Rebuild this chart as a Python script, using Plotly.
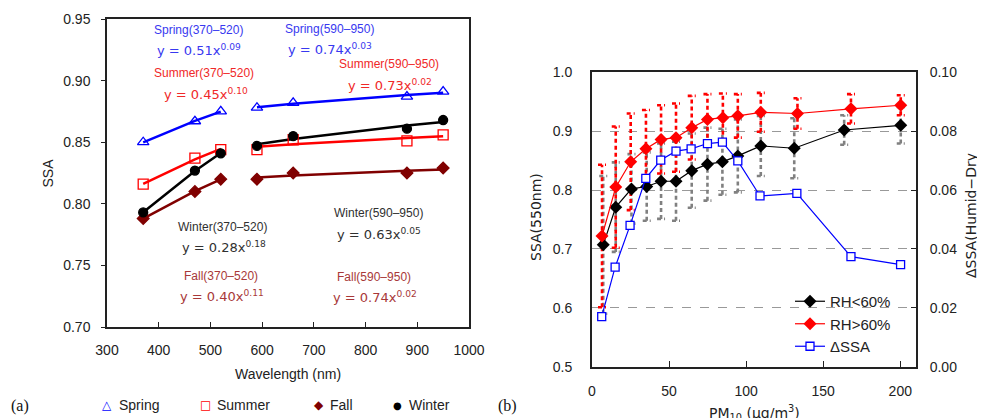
import numpy as np
import plotly.graph_objects as go

W, H = 985, 418
OFF = 8  # page body margin offset


def px(x):
    return (x - OFF) / W


def py(y):
    return 1 - (y - OFF) / H


# ---------------- panel (a) data ----------------
wl_short = [370, 470, 520]
wl_long = [590, 660, 880, 950]
spring_short = [0.850, 0.867, 0.875]
spring_long = [0.878, 0.882, 0.887, 0.891]
summer_short = [0.816, 0.837, 0.844]
summer_long = [0.844, 0.852, 0.851, 0.856]
fall_short = [0.788, 0.810, 0.820]
fall_long = [0.820, 0.825, 0.825, 0.829]
winter_short = [0.793, 0.827, 0.841]
winter_long = [0.847, 0.855, 0.861, 0.868]

seasons = ["Spring", "Summer", "Fall", "Winter"]
season_colors = {"Spring": "#0000FF", "Summer": "#FF0000", "Fall": "#800000", "Winter": "#000000"}
season_text_colors = {"Spring": "#3838F0", "Summer": "#F02828", "Fall": "#A83838", "Winter": "#303030"}
season_symbols = {"Spring": "triangle-up-open", "Summer": "square-open", "Fall": "diamond", "Winter": "circle"}
season_sizes = {"Spring": 10, "Summer": 10, "Fall": 9, "Winter": 9}
season_data = {
    "Spring": (spring_short, spring_long),
    "Summer": (summer_short, summer_long),
    "Fall": (fall_short, fall_long),
    "Winter": (winter_short, winter_long),
}
eq_short = {"Spring": ("0.51", "0.09"), "Summer": ("0.45", "0.10"), "Fall": ("0.40", "0.11"), "Winter": ("0.28", "0.18")}
eq_long = {"Spring": ("0.74", "0.03"), "Summer": ("0.73", "0.02"), "Fall": ("0.74", "0.02"), "Winter": ("0.63", "0.05")}

# ---------------- panel (b) data ----------------
pm_dry = [7.3, 15.4, 25.6, 35.5, 44.8, 54.5, 64.7, 74.9, 84.6, 94.6, 109.5, 131.2, 163.6, 200.3]
pm_wet = [6.5, 15.4, 25.1, 35.0, 44.8, 54.5, 64.7, 74.9, 84.9, 94.6, 109.5, 133.3, 168.0, 200.3]
ssa_dry = [0.707, 0.771, 0.802, 0.806, 0.815, 0.815, 0.833, 0.844, 0.848, 0.858, 0.875, 0.871, 0.902, 0.910]
ssa_dry_err = [0.117, 0.076, 0.059, 0.058, 0.064, 0.067, 0.063, 0.062, 0.056, 0.062, 0.051, 0.051, 0.025, 0.031]
ssa_wet = [0.722, 0.805, 0.848, 0.870, 0.886, 0.889, 0.906, 0.920, 0.923, 0.926, 0.932, 0.930, 0.938, 0.944]
ssa_wet_err = [0.121, 0.103, 0.082, 0.066, 0.058, 0.058, 0.054, 0.043, 0.041, 0.037, 0.033, 0.026, 0.025, 0.017]
pm_delta = [6.3, 15.0, 24.7, 34.9, 44.6, 54.5, 64.3, 74.9, 84.6, 94.6, 109.0, 132.9, 168.0, 200.2]
delta_ssa = [0.0170, 0.0338, 0.0480, 0.0640, 0.0702, 0.0732, 0.0740, 0.0758, 0.0763, 0.0699, 0.0580, 0.0589, 0.0374, 0.0347]

fig = go.Figure()


def power_fit(x, y):
    b, ln_a = np.polyfit(np.log(x), np.log(y), 1)
    return [float(np.exp(ln_a) * xi ** b) for xi in x]


for s in seasons:
    ys, yl = season_data[s]
    for xx, yy in ((wl_short, ys), (wl_long, yl)):
        fig.add_trace(go.Scatter(x=xx, y=power_fit(xx, yy), mode="lines",
                                 line=dict(color=season_colors[s], width=2.5),
                                 showlegend=False, xaxis="x", yaxis="y", hoverinfo="skip"))
for s in seasons:
    ys, yl = season_data[s]
    fig.add_trace(go.Scatter(x=wl_short + wl_long, y=ys + yl, mode="markers", name=s,
                             marker=dict(symbol=season_symbols[s], size=season_sizes[s],
                                         color=season_colors[s], line=dict(width=1.3, color=season_colors[s])),
                             showlegend=False, xaxis="x", yaxis="y"))


def err_segments(xs, ys, es, half):
    ex, ey = [], []
    for x, y, e in zip(xs, ys, es):
        ex += [x, x, None, x - half, x + half, None, x - half, x + half, None]
        ey += [y - e, y + e, None, y + e, y + e, None, y - e, y - e, None]
    return ex, ey


gx, gy = err_segments(pm_dry, ssa_dry, ssa_dry_err, 2.6)
fig.add_trace(go.Scatter(x=gx, y=gy, mode="lines", line=dict(color="#808080", width=2.6, dash="4px,3px"),
                         showlegend=False, xaxis="x2", yaxis="y2", hoverinfo="skip"))
rx, ry = err_segments(pm_wet, ssa_wet, ssa_wet_err, 2.6)
fig.add_trace(go.Scatter(x=rx, y=ry, mode="lines", line=dict(color="#FF0000", width=2.6, dash="4px,3px"),
                         showlegend=False, xaxis="x2", yaxis="y2", hoverinfo="skip"))

fig.add_trace(go.Scatter(x=pm_dry, y=ssa_dry, mode="lines+markers", name="RH&lt;60%",
                         line=dict(color="#000000", width=1.2),
                         marker=dict(symbol="diamond", size=10, color="#000000"),
                         xaxis="x2", yaxis="y2", legendrank=1))
fig.add_trace(go.Scatter(x=pm_wet, y=ssa_wet, mode="lines+markers", name="RH&gt;60%",
                         line=dict(color="#FF0000", width=1.2),
                         marker=dict(symbol="diamond", size=10, color="#FF0000"),
                         xaxis="x2", yaxis="y2", legendrank=2))
fig.add_trace(go.Scatter(x=pm_delta, y=delta_ssa, mode="lines+markers", name="ΔSSA",
                         line=dict(color="#0000FF", width=1.2),
                         marker=dict(symbol="square", size=8, color="#FFFFFF", line=dict(color="#0000FF", width=1.3)),
                         xaxis="x2", yaxis="y3", legendrank=3))

tickfont = dict(family="Liberation Sans, Arial, sans-serif", size=14, color="#222222")

annotations = []


def ann(text, x, y, xanchor="center", yanchor="middle", size=12, color="#222", family="Liberation Sans, Arial, sans-serif", angle=0):
    annotations.append(dict(text=text, x=px(x), y=py(y), xref="paper", yref="paper", xanchor=xanchor,
                            yanchor=yanchor, showarrow=False, textangle=angle,
                            font=dict(size=size, color=color, family=family)))


# season labels and equations (panel a)
label_pos = {
    ("Spring", "s"): (198.5, 30, 155, 50), ("Summer", "s"): (204, 73, 162, 94),
    ("Spring", "l"): (329, 29, 286, 49), ("Summer", "l"): (389, 64, 346, 85),
    ("Winter", "s"): (222, 227, 180, 247), ("Fall", "s"): (221, 276, 178, 296),
    ("Winter", "l"): (378, 213, 335, 234), ("Fall", "l"): (374, 277, 331, 297),
}
for (s, kind), (lx, ly, ex, ey) in label_pos.items():
    rng = "(370–520)" if kind == "s" else "(590–950)"
    a, b = eq_short[s] if kind == "s" else eq_long[s]
    c = season_text_colors[s]
    ann(s + rng, lx, ly, size=12, color=c)
    ann("y = " + a + "x<sup>" + b + "</sup>", ex, ey, xanchor="left", size=13, color=c,
        family="DejaVu Sans, sans-serif")

# panel (a) legend (bottom)
leg_items = [("△", "Spring", 107, 117), ("□", "Summer", 205.5, 215), ("◆", "Fall", 319, 328), ("●", "Winter", 397, 406.5)]
for sym, name, sx, tx in leg_items:
    ann(sym, sx, 405, size=12 if sym != "●" else 10, color=season_colors[name], family="DejaVu Sans, sans-serif")
    ann(name, tx, 405, xanchor="left", size=14, color="#222")

ann("(a)", 20, 406, size=16, color="#111", family="Liberation Serif, Times New Roman, serif")
ann("(b)", 507.5, 406, size=16, color="#111", family="Liberation Serif, Times New Roman, serif")

# axis titles
ann("SSA", 47.5, 173, size=14, angle=-90)
ann("Wavelength (nm)", 287.5, 374, size=14)
ann("SSA(550nm)", 536, 217, size=14, angle=-90, family="DejaVu Sans, sans-serif")
ann("ΔSSA(Humid−Dry", 971, 216, size=14, angle=-90, family="DejaVu Sans, sans-serif")
ann("PM<sub>10</sub> (μg/m<sup>3</sup>)", 754, 401, yanchor="top", size=14, family="DejaVu Sans, sans-serif")

fig.update_layout(
    width=W, height=H, margin=dict(l=0, r=0, t=0, b=0, autoexpand=False),
    paper_bgcolor="white", plot_bgcolor="white",
    showlegend=True,
    legend=dict(x=px(790), y=py(285), xanchor="left", yanchor="top", bgcolor="rgba(0,0,0,0)",
                font=dict(family="Liberation Sans, Arial, sans-serif", size=15, color="#222"),
                tracegroupgap=0, itemwidth=30),
    annotations=annotations,
    xaxis=dict(domain=[px(107), px(469)], range=[300, 1000], dtick=100, tick0=300,
               showline=True, linecolor="#222", linewidth=1.5, mirror=True, automargin=False,
               ticks="inside", ticklen=5, tickcolor="#222", showgrid=False, zeroline=False,
               tickfont=tickfont, ticklabelstandoff=9, anchor="y"),
    yaxis=dict(domain=[py(327), py(19)], range=[0.70, 0.95], dtick=0.05, tick0=0.70, tickformat=".2f",
               showline=True, linecolor="#222", linewidth=1.5, mirror=True, automargin=False,
               ticks="outside", ticklen=4, tickcolor="#222", showgrid=False, zeroline=False,
               tickfont=tickfont, ticklabelstandoff=8, anchor="x"),
    xaxis2=dict(domain=[px(592), px(915.7)], range=[0, 210], tickvals=[0, 50, 100, 150, 200],
                showline=True, linecolor="#222", linewidth=2, mirror=True, automargin=False,
                ticks="inside", ticklen=6, tickcolor="#222", showgrid=False, zeroline=False,
                tickfont=tickfont, ticklabelstandoff=10, anchor="y2"),
    yaxis2=dict(domain=[py(366.7), py(72.3)], range=[0.5, 1.0], dtick=0.1, tick0=0.5, tickformat=".1f",
                showline=True, linecolor="#222", linewidth=2, mirror=True, automargin=False,
                ticks="", showgrid=True, gridcolor="#999999", griddash="dash", gridwidth=1,
                zeroline=False, tickfont=tickfont, ticklabelstandoff=15, anchor="x2"),
    yaxis3=dict(overlaying="y2", side="right", anchor="x2", range=[0, 0.1], dtick=0.02, tick0=0,
                tickformat=".2f", showline=False, ticks="inside", ticklen=5, tickcolor="#222",
                automargin=False,
                showgrid=False, zeroline=False, tickfont=tickfont, ticklabelstandoff=13),
)

fig.write_html("out.html")
